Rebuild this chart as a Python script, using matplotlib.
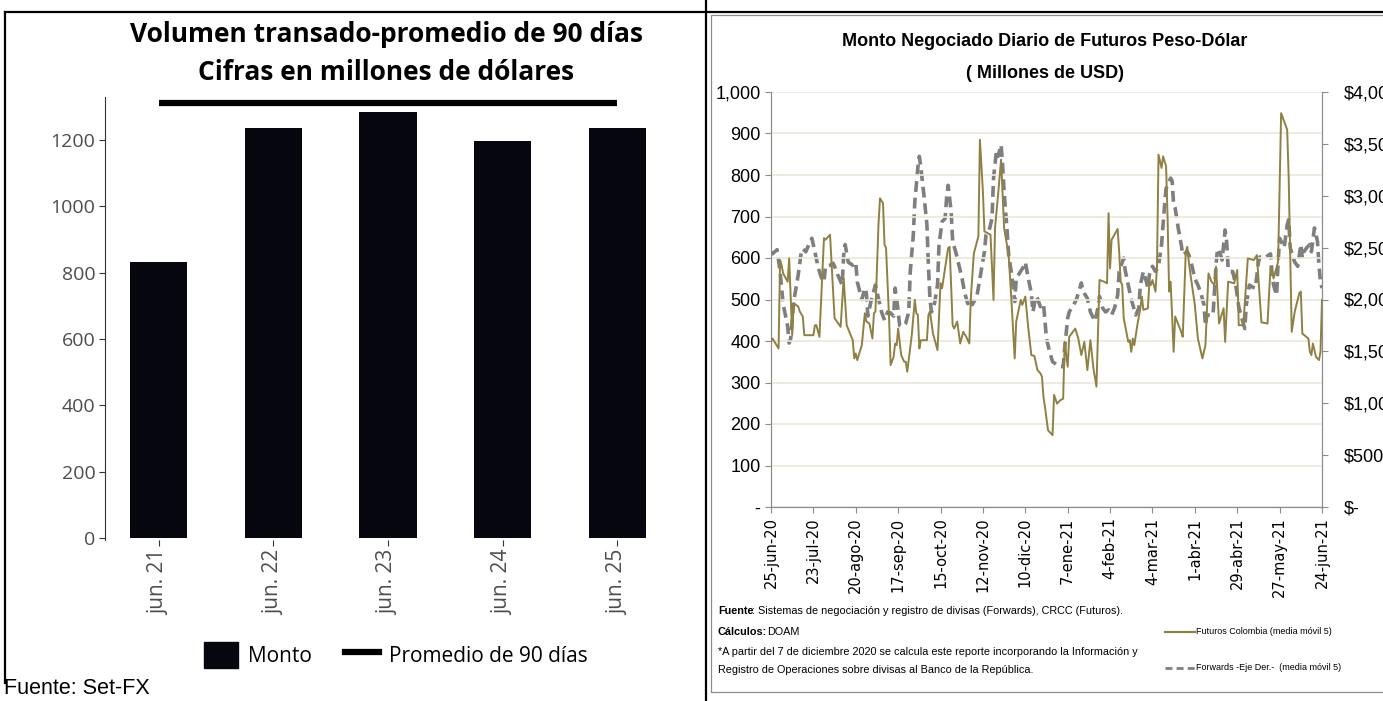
import pandas as pd
import matplotlib
matplotlib.use("Agg")
import matplotlib.pyplot as plt
from matplotlib.lines import Line2D
from matplotlib.patches import Patch, Rectangle

# --- left panel: 90-day average volume ---
years = ["jun. 21", "jun. 22", "jun. 23", "jun. 24", "jun. 25"]
monto = [832, 1236, 1284, 1197, 1236]
promedio = 1311

# --- right panel: daily peso-dollar futures and forwards (5-day moving avg) ---
start = pd.Timestamp("2020-06-25")
fut_days = [0, 1, 5, 6, 7, 8, 11, 12, 14, 15, 18, 19, 21, 22, 28, 29, 30, 32, 35, 36,
            39, 42, 46, 48, 50, 54, 55, 56, 57, 60, 62, 63, 65, 67, 68, 69, 71, 72, 74, 75,
            76, 78, 79, 81, 82, 83, 84, 86, 88, 89, 90, 93, 95, 96, 97, 98, 99, 103, 104, 105,
            107, 110, 112, 113, 117, 118, 120, 121, 123, 125, 127, 129, 131, 132, 134, 137, 138, 140, 141, 143,
            145, 147, 148, 150, 152, 153, 154, 157, 159, 161, 162, 165, 166, 168, 170, 172, 174, 176, 178, 179,
            180, 181, 183, 186, 187, 189, 191, 193, 194, 196, 197, 201, 203, 205, 207, 209, 211, 213, 215, 217,
            220, 222, 223, 224, 225, 229, 230, 231, 232, 233, 236, 237, 238, 239, 240, 242, 244, 245, 246, 249,
            250, 251, 252, 254, 255, 256, 258, 259, 261, 262, 263, 264, 266, 267, 271, 272, 274, 275, 276, 277,
            280, 282, 285, 287, 289, 291, 293, 294, 296, 299, 300, 302, 306, 308, 309, 312, 315, 319, 321, 322,
            324, 328, 330, 332, 335, 336, 337, 339, 341, 342, 344, 346, 349, 350, 351, 355, 356, 357, 358, 360,
            362, 363, 364]
fut_vals = [398, 406, 382, 595, 583, 563, 543, 599, 414, 491, 483, 471, 459, 414, 414, 438, 438, 410, 648, 644,
            656, 455, 434, 551, 438, 402, 358, 370, 354, 390, 467, 447, 442, 406, 467, 471, 680, 744, 732, 632,
            624, 455, 342, 362, 394, 390, 430, 366, 350, 350, 326, 414, 499, 467, 463, 382, 402, 402, 463, 471,
            418, 378, 539, 527, 624, 627, 438, 430, 447, 394, 422, 410, 394, 503, 611, 652, 885, 760, 664, 660,
            656, 499, 672, 752, 837, 752, 672, 607, 487, 358, 447, 499, 487, 507, 430, 366, 364, 330, 322, 314,
            265, 241, 185, 173, 270, 249, 257, 261, 398, 338, 410, 430, 406, 366, 398, 330, 402, 334, 290, 547,
            543, 539, 708, 575, 644, 670, 615, 543, 535, 455, 398, 402, 374, 406, 390, 438, 479, 507, 475, 479,
            543, 535, 547, 519, 579, 849, 817, 845, 821, 696, 519, 543, 374, 459, 422, 410, 615, 627, 591, 563,
            487, 406, 358, 390, 563, 543, 535, 579, 442, 479, 398, 543, 539, 571, 438, 438, 599, 595, 607, 551,
            445, 442, 579, 551, 591, 776, 949, 929, 909, 792, 422, 471, 515, 519, 418, 406, 374, 366, 394, 362,
            354, 374, 499]

fwd_days = [0, 1, 4, 6, 8, 11, 12, 13, 15, 18, 20, 21, 23, 25, 27, 29, 31, 33, 35, 36,
            39, 41, 42, 44, 47, 48, 49, 51, 54, 56, 57, 60, 62, 63, 64, 66, 69, 71, 73, 75,
            77, 79, 81, 82, 83, 85, 87, 89, 91, 92, 94, 95, 97, 98, 99, 101, 103, 104, 105, 106,
            108, 110, 111, 113, 115, 116, 117, 119, 120, 122, 123, 126, 128, 130, 132, 133, 136, 138, 139, 141,
            142, 144, 146, 147, 149, 150, 152, 153, 154, 156, 157, 159, 161, 162, 164, 167, 168, 170, 172, 173,
            175, 176, 178, 180, 182, 184, 186, 189, 193, 194, 196, 197, 200, 202, 205, 206, 207, 209, 211, 214,
            216, 217, 219, 221, 223, 225, 227, 229, 230, 233, 234, 236, 238, 239, 241, 243, 244, 246, 248, 249,
            250, 252, 254, 256, 258, 259, 260, 261, 264, 265, 266, 267, 269, 271, 272, 275, 276, 278, 280, 282,
            284, 286, 287, 288, 290, 292, 294, 295, 297, 298, 300, 301, 302, 303, 305, 307, 309, 311, 313, 314,
            316, 318, 320, 322, 323, 326, 330, 331, 332, 334, 335, 336, 338, 339, 341, 342, 343, 345, 346, 348,
            350, 351, 352, 354, 356, 357, 359, 361, 362, 363, 364]
fwd_vals = [2460, 2440, 2480, 2270, 1960, 1740, 1580, 1620, 1980, 2240, 2460, 2490, 2460, 2530, 2590, 2460, 2320, 2220, 2170, 2320,
            2330, 2350, 2320, 2240, 2140, 2430, 2530, 2360, 2330, 2360, 2170, 2000, 2110, 2060, 1840, 1980, 2140, 2010, 1880, 1800,
            1880, 1870, 1840, 2110, 2010, 1750, 1740, 1770, 1880, 2270, 2620, 2940, 3270, 3380, 3270, 3010, 2720, 2330, 2010, 1880,
            1960, 2140, 2530, 2750, 2780, 2980, 3100, 2850, 2560, 2460, 2400, 2220, 2060, 1960, 2010, 1950, 2030, 2200, 2280, 2460,
            2620, 2660, 2780, 3170, 3440, 3380, 3490, 3300, 3040, 2660, 2430, 2240, 1980, 2200, 2250, 2320, 2360, 2200, 2060, 1880,
            2030, 2010, 1930, 1960, 1620, 1500, 1400, 1370, 1350, 1530, 1820, 1880, 1950, 2010, 2160, 2090, 2060, 2010, 1880, 1790,
            1920, 2030, 1920, 1880, 1900, 1850, 1920, 2040, 2270, 2400, 2280, 2140, 2000, 1950, 1850, 1920, 2140, 2270, 2170, 2110,
            2240, 2320, 2270, 2320, 2530, 2720, 2910, 3070, 3170, 3140, 2910, 2880, 2690, 2530, 2430, 2460, 2430, 2330, 2200, 2140,
            2060, 1950, 1750, 1850, 1850, 1850, 2330, 2490, 2430, 2380, 2670, 2560, 2300, 2270, 2270, 2140, 1930, 1820, 1720, 1950,
            2140, 2120, 2110, 2360, 2410, 2400, 2440, 2250, 2140, 2040, 2360, 2590, 2530, 2500, 2720, 2770, 2500, 2400, 2360, 2320,
            2530, 2400, 2460, 2500, 2530, 2460, 2690, 2560, 2330, 2170, 2110]

meses = ["ene", "feb", "mar", "abr", "may", "jun", "jul", "ago", "sep", "oct", "nov", "dic"]

W, H = 1383, 701
fig = plt.figure(figsize=(W / 100, H / 100), dpi=100)

def fx(px):
    return px / W

def fy(py):
    return 1 - py / H

# ---------------- left chart ----------------
lfont = "Open Sans"
axl = fig.add_axes([fx(105), fy(540), fx(671) - fx(105), fy(97) - fy(540)])
xpos = list(range(len(years)))
axl.bar(xpos, monto, width=0.5, color="#06060f")
axl.hlines(promedio, xpos[0], xpos[-1], color="black", lw=4.5)
axl.set_xlim(-0.47, 4.47)
axl.set_ylim(-6, 1330)
axl.set_yticks(range(0, 1201, 200))
axl.set_xticks(xpos)
axl.set_xticklabels(years, rotation=90, fontsize=15, color="#4d4d4d", family=lfont)
for lab in axl.get_yticklabels():
    lab.set_fontsize(14)
    lab.set_color("#4d4d4d")
    lab.set_family(lfont)
for s in ["top", "right", "bottom"]:
    axl.spines[s].set_visible(False)
axl.spines["left"].set_color("#333333")
axl.tick_params(axis="x", length=4, color="#333333", pad=3)
axl.tick_params(axis="y", length=4, color="#333333", pad=3)

fig.text(fx(386), fy(35), "Volumen transado-promedio de 90 días", ha="center", va="center",
         fontsize=19, fontweight="bold", family=lfont)
fig.text(fx(386), fy(72), "Cifras en millones de dólares", ha="center", va="center",
         fontsize=19, fontweight="bold", family=lfont)

handles = [Patch(color="#06060f", label="Monto"),
           Line2D([], [], color="black", lw=4.5, label="Promedio de 90 días")]
fig.legend(handles=handles, loc="center", bbox_to_anchor=(fx(396), fy(655)), ncol=2,
           frameon=False, prop={"family": lfont, "size": 15}, handlelength=1.6,
           handleheight=1.5, handletextpad=0.5, columnspacing=1.6)

fig.text(fx(4), fy(689), "Fuente: Set-FX", ha="left", va="center", fontsize=15.5,
         family="Liberation Sans")

# ---------------- right chart ----------------
rfont = ["Liberation Sans Narrow", "Liberation Sans"]
axr = fig.add_axes([fx(771), fy(507), fx(1322) - fx(771), fy(92) - fy(507)])
axr2 = axr.twinx()

fut_x = [start + pd.Timedelta(days=d) for d in fut_days]
fwd_x = [start + pd.Timedelta(days=d) for d in fwd_days]
axr.plot(fut_x, fut_vals, color="#8f8043", lw=1.4, zorder=3)
axr2.plot(fwd_x, fwd_vals, color="#7f7f7f", lw=2.6, dashes=(3, 1.6))

axr.set_zorder(axr2.get_zorder() + 1)
axr.patch.set_visible(False)

axr.set_ylim(0, 1000)
axr.set_yticks(range(0, 1001, 100))
axr.set_yticklabels(["-"] + [f"{v:,}" for v in range(100, 1001, 100)])
axr2.set_ylim(0, 4000)
axr2.set_yticks(range(0, 4001, 500))
axr2.set_yticklabels(["$-"] + [f"${v:,}" for v in range(500, 4001, 500)])
axr.yaxis.grid(True, color="#ece8dc", lw=1.2)
axr.set_axisbelow(True)

ticks = [start + pd.Timedelta(days=28 * k) for k in range(14)]
axr.set_xlim(start, start + pd.Timedelta(days=364))
axr.set_xticks(ticks)
axr.set_xticklabels([f"{t.day}-{meses[t.month - 1]}-{t.strftime('%y')}" for t in ticks],
                    rotation=90, fontsize=10.5, family="DejaVu Sans")

for a in (axr, axr2):
    for s in a.spines.values():
        s.set_color("#8c8c8c")
    a.spines["top"].set_visible(False)
    a.tick_params(color="#8c8c8c", length=4)
axr.tick_params(axis="y", labelsize=13)
axr2.tick_params(axis="y", labelsize=13, pad=12)
for lab in axr.get_yticklabels() + axr2.get_yticklabels():
    lab.set_family(rfont)

fig.text(fx(1045), fy(42), "Monto Negociado Diario de Futuros Peso-Dólar", ha="center",
         va="center", fontsize=13, fontweight="bold", family=rfont)
fig.text(fx(1045), fy(73), "( Millones de USD)", ha="center", va="center",
         fontsize=13, fontweight="bold", family=rfont)

nf = 7.8
fig.text(fx(718), fy(611), "Fuente", ha="left", va="center", fontsize=nf, fontweight="bold", family=rfont)
fig.text(fx(752), fy(611), ": Sistemas de negociación y registro de divisas (Forwards), CRCC (Futuros).",
         ha="left", va="center", fontsize=nf, family=rfont)
fig.text(fx(718), fy(632), "Cálculos:", ha="left", va="center", fontsize=nf, fontweight="bold", family=rfont)
fig.text(fx(767), fy(632), "DOAM", ha="left", va="center", fontsize=nf, family=rfont)
fig.text(fx(718), fy(652), "*A partir del 7 de diciembre 2020 se calcula este reporte incorporando la Información y",
         ha="left", va="center", fontsize=nf, family=rfont)
fig.text(fx(718), fy(670), "Registro de Operaciones sobre divisas al Banco de la República.",
         ha="left", va="center", fontsize=nf, family=rfont)

fig.add_artist(Line2D([fx(1165), fx(1195)], [fy(632), fy(632)], color="#8f8043", lw=1.6))
fig.text(fx(1196), fy(632), "Futuros Colombia (media móvil 5)", ha="left", va="center",
         fontsize=6.5, family=rfont)
fig.add_artist(Line2D([fx(1165), fx(1195)], [fy(668), fy(668)], color="#7f7f7f", lw=2,
                      dashes=(2.5, 1.5)))
fig.text(fx(1196), fy(668), "Forwards -Eje Der.-  (media móvil 5)", ha="left", va="center",
         fontsize=6.5, family=rfont)

# ---------------- panel borders ----------------
fig.add_artist(Line2D([fx(5), fx(1383)], [fy(12), fy(12)], color="black", lw=1.6))
fig.add_artist(Line2D([fx(5), fx(5)], [fy(12), fy(683)], color="black", lw=1.6))
fig.add_artist(Line2D([fx(706), fx(706)], [fy(0), fy(701)], color="black", lw=1.6))
fig.add_artist(Rectangle((fx(711), fy(692)), fx(1390) - fx(711), fy(15) - fy(692),
                         fill=False, edgecolor="#8c8c8c", lw=0.9))

fig.savefig("out.png", dpi=100)
